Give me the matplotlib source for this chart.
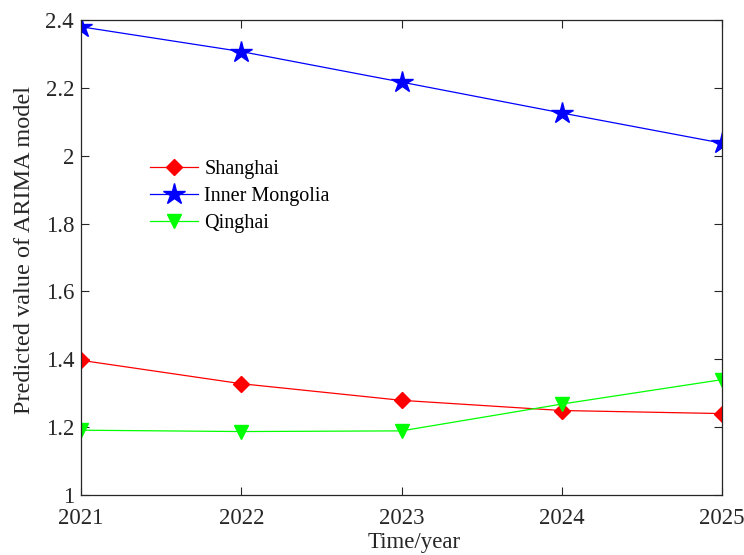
import numpy as np
from matplotlib import pyplot as plt

plt.rcParams["font.family"] = ["Liberation Serif", "DejaVu Serif"]
plt.rcParams["mathtext.fontset"] = "stix"

years = [2021, 2022, 2023, 2024, 2025]
shanghai = [1.397, 1.328, 1.279, 1.249, 1.240]
inner_mongolia = [2.380, 2.307, 2.217, 2.126, 2.037]
qinghai = [1.191, 1.187, 1.189, 1.268, 1.340]

fig = plt.figure(figsize=(7.44, 5.55), dpi=100)
ax = fig.add_axes([81 / 744, 60 / 555, 641 / 744, 475 / 555])

ax.plot(years, shanghai, color="red", linewidth=0.9, marker="D",
        markersize=8.5, label="Shanghai")
ax.plot(years, inner_mongolia, color="blue", linewidth=0.9, marker="*",
        markersize=16, label="Inner Mongolia")
ax.plot(years, qinghai, color=(0, 1, 0), linewidth=0.9, marker="v",
        markersize=10, label="Qinghai")

ax.set_xlim(2021, 2025)
ax.set_ylim(1, 2.4)
ax.set_xticks(years)
ax.set_yticks(np.arange(1, 2.41, 0.2))
ax.set_yticklabels(["1", "1.2", "1.4", "1.6", "1.8", "2", "2.2", "2.4"])

ax.tick_params(direction="in", top=True, right=True, labelsize=16.5,
               colors="#262626", length=6, width=0.8)
ax.tick_params(axis="x", pad=9)
ax.tick_params(axis="y", pad=5)
for side in ax.spines.values():
    side.set_color("#262626")
    side.set_linewidth(0.9)

ax.set_xlabel("Time/year", fontsize=16.5, color="#262626")
ax.xaxis.set_label_coords(0.52, -0.078)
ax.set_ylabel("Predicted value of ARIMA model", fontsize=17.5,
              color="#262626")
ax.yaxis.set_label_coords(-0.071, 0.516)

ax.legend(loc="upper left", bbox_to_anchor=(0.095, 0.722), frameon=False,
          fontsize=14.5, handlelength=2.4, handletextpad=0.3,
          labelspacing=0.38, borderaxespad=0)

fig.savefig("out.png", dpi=100)
